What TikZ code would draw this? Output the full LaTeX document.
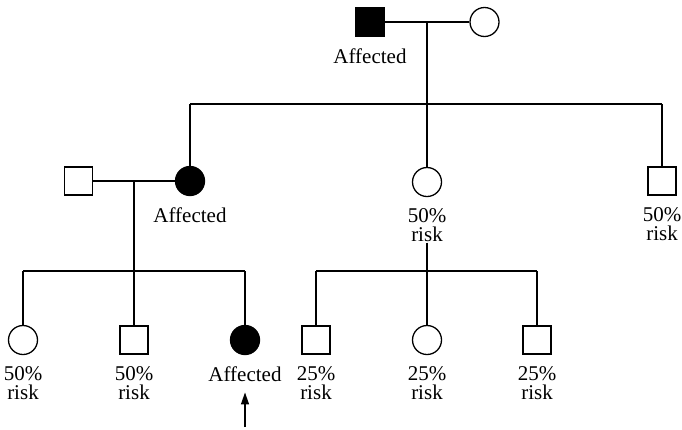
\documentclass[tikz,border=0pt]{standalone}
\usepackage{fontspec}
\setmainfont{Liberation Serif}
\usetikzlibrary{arrows.meta, positioning}

\begin{document}
\begin{tikzpicture}[x=1pt, y=-1pt, line width=1.3pt, node distance=11pt,
  male/.style={draw, minimum size=28pt, inner sep=0pt},
  female/.style={draw, circle, minimum size=29pt, inner sep=0pt},
  aff/.style={fill=black},
  note/.style={align=center, inner sep=0pt, font=\fontsize{21}{19}\selectfont}]
  \useasboundingbox (0,0) rectangle (682,429);

  % first generation
  \node[male, aff] (gf) at (370,22)   {};
  \node[female]    (gm) at (484.5,22) {};
  \node[note, below=of gf] (lgf) {Affected};
  \draw (gf) -- (gm) coordinate[midway] (m1);
  \coordinate (s1) at (m1 |- 0,104);
  \draw (m1) -- (s1);

  % second generation
  \node[male]        (hb) at (78.5,181) {};
  \node[female, aff] (d1) at (190,181)  {};
  \node[female]      (d2) at (427,182)  {};
  \node[male]        (d3) at (662,181)  {};
  \node[note, below=of d1] (ld1) {Affected};
  \node[note, below=of d2] (ld2) {50\%\\risk};
  \node[note, below=of d3] (ld3) {50\%\\risk};
  \draw (d1.north |- s1) -- (d3.north |- s1);
  \foreach \n in {d1, d2, d3}
    \draw (\n) -- (\n |- s1);

  % third generation, left family
  \draw (hb) -- (d1) coordinate[midway] (m2);
  \coordinate (s2) at (m2 |- 0,271);
  \draw (m2) -- (s2);
  \node[female]      (g1) at (23,340)  {};
  \node[male]        (g2) at (134,340) {};
  \node[female, aff] (g3) at (245,340) {};
  \node[note, below=of g1] (lg1) {50\%\\risk};
  \node[note, below=of g2] (lg2) {50\%\\risk};
  \node[note, below=of g3] (lg3) {Affected};
  \draw (g1.north |- s2) -- (g3.north |- s2);
  \foreach \n in {g1, g2, g3}
    \draw (\n) -- (\n |- s2);
  % proband
  \coordinate (pb) at (245,427);
  \draw[-{Triangle[length=12pt, width=8pt]}, shorten >=10pt] (pb) -- (lg3);

  % third generation, right family
  \coordinate (s3) at (ld2 |- 0,271);
  \draw (ld2) -- (s3);
  \node[male]   (k1) at (316,340) {};
  \node[female] (k2) at (427,340) {};
  \node[male]   (k3) at (537,340) {};
  \node[note, below=of k1] (lk1) {25\%\\risk};
  \node[note, below=of k2] (lk2) {25\%\\risk};
  \node[note, below=of k3] (lk3) {25\%\\risk};
  \draw (k1.north |- s3) -- (k3.north |- s3);
  \foreach \n in {k1, k2, k3}
    \draw (\n) -- (\n |- s3);
\end{tikzpicture}
\end{document}
